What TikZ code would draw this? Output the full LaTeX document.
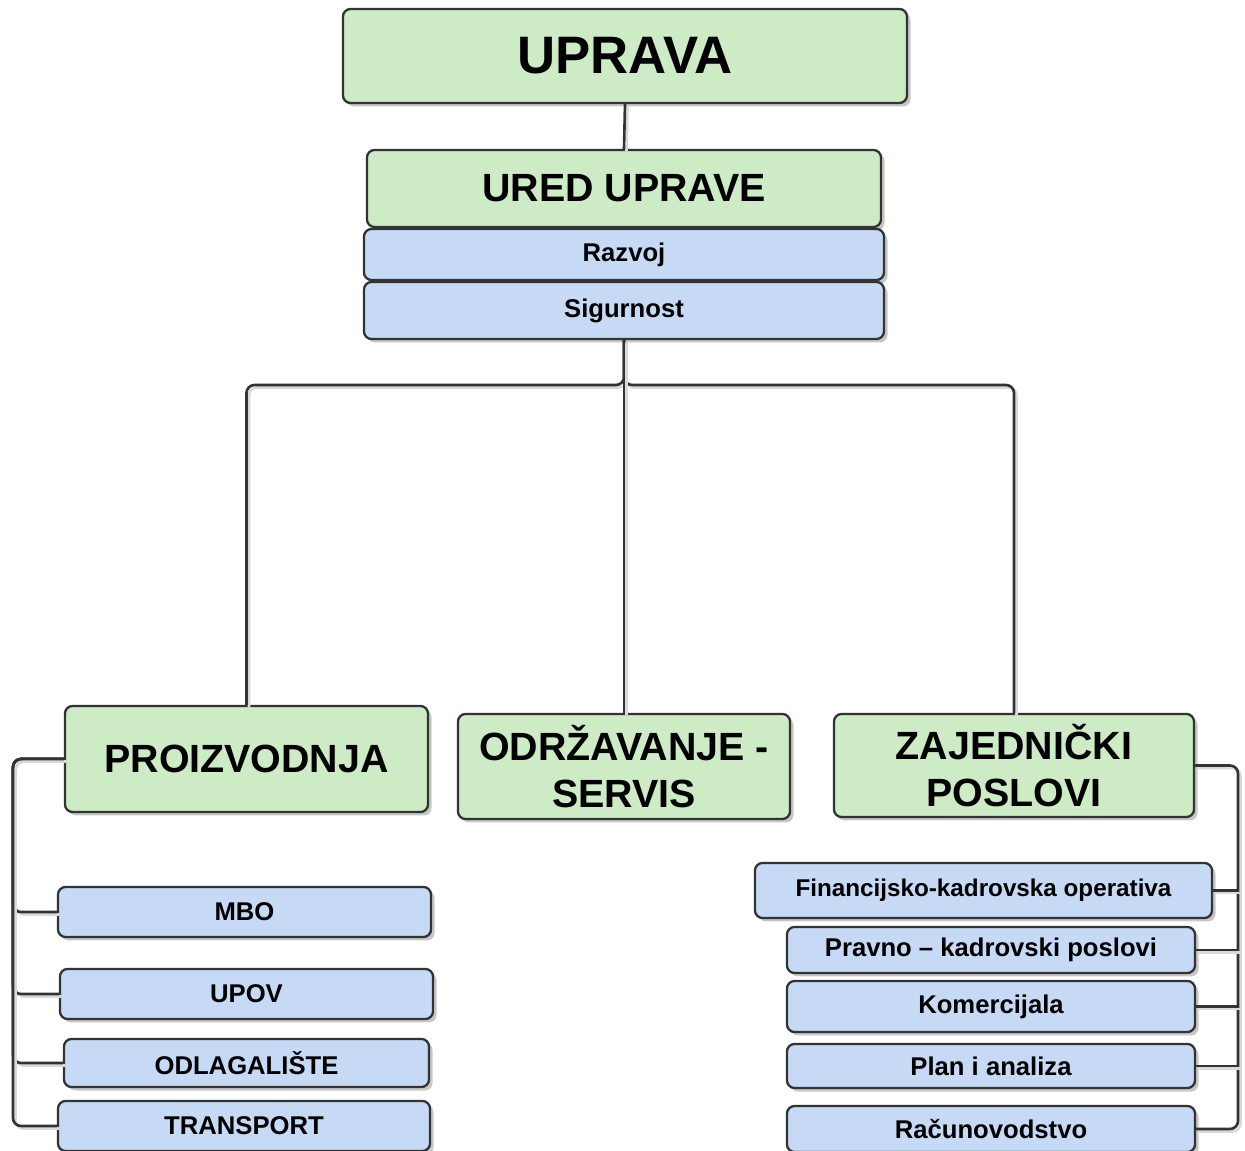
\documentclass[tikz,border=0pt]{standalone}
\usepackage{fontspec}
\setmainfont{Liberation Sans}
\usetikzlibrary{shadows}
\definecolor{boxgreen}{HTML}{CDEBC5}
\definecolor{boxblue}{HTML}{C6DAF5}
\definecolor{edge}{HTML}{333333}
\begin{document}
\begin{tikzpicture}[x=0.02cm,y=-0.02cm,
  box/.style={draw=edge, line width=1.3pt, rounded corners=0.15cm, inner sep=0pt,
    align=center, font=\bfseries,
    drop shadow={shadow xshift=0.07cm, shadow yshift=-0.07cm, fill=black!22, opacity=1}},
  gbox/.style={box, fill=boxgreen},
  bbox/.style={box, fill=boxblue},
  sz/.style 2 args={minimum width=#1*0.02cm, minimum height=#2*0.02cm},
  big/.style={font=\bfseries\fontsize{30}{34}\selectfont},
  mid/.style={font=\bfseries\fontsize{22.4}{26.6}\selectfont},
  small/.style={font=\bfseries\fontsize{14.6}{17}\selectfont},
  conn/.style={draw=edge, line width=1.5pt, rounded corners=0.16cm,
    preaction={draw=black!15, line width=1.5pt,
      transform canvas={shift={(0.05cm,-0.05cm)}}}}]
\useasboundingbox (0,0) rectangle (1245,1151);

% bus points
\coordinate (bus) at (624,385);
\coordinate (lx) at (13,0);
\coordinate (rx) at (1238,0);

% top levels
\node[gbox, big, sz={564}{94}] (upr) at (625,56) {UPRAVA};
\node[gbox, mid, sz={514}{77}] (ured) at (624,188.5) {URED UPRAVE};
\node[bbox, small, sz={520}{51}] (razvoj) at (624,254.5) {Razvoj};
\node[bbox, small, sz={520}{57}] (sig) at (624,310.5) {Sigurnost};

% divisions
\node[gbox, mid, sz={363}{106}] (proiz) at (246.5,759) {PROIZVODNJA};
\node[gbox, mid, sz={332}{105}] (odr) at (624,766.5) {ODRŽAVANJE -\\SERVIS};
\node[gbox, mid, sz={360}{103}] (zaj) at (1014,765.5) {ZAJEDNIČKI\\POSLOVI};

% production units
\node[bbox, small, sz={373}{50}] (mbo) at (244.5,912) {MBO};
\node[bbox, small, sz={373}{50}] (upov) at (246.5,994) {UPOV};
\node[bbox, small, sz={365}{48}] (odl) at (246.5,1063) {ODLAGALIŠTE};
\node[bbox, small, sz={372}{50}] (trans) at (244,1126) {TRANSPORT};

% shared services units
\node[bbox, font=\bfseries\fontsize{13.8}{16}\selectfont, sz={457}{55}] (fin) at (983.5,890.5) {Financijsko-kadrovska operativa};
\node[bbox, small, sz={408}{46}] (prav) at (991,950) {Pravno -- kadrovski poslovi};
\node[bbox, small, sz={408}{51}] (kom) at (991,1006.5) {Komercijala};
\node[bbox, small, sz={408}{44}] (plan) at (991,1066) {Plan i analiza};
\node[bbox, small, sz={408}{46}] (rac) at (991,1129) {Računovodstvo};

% connectors
\draw[conn] (upr.south) -- (ured.north);
\draw[conn] (sig.south) -- (bus) -| (proiz.north);
\draw[conn] (sig.south) -- (bus) -| (zaj.north);
\draw[conn] (sig.south) -- (odr.north);

\foreach \n in {mbo,upov,odl,trans}
  \draw[conn] (proiz.west) -- (proiz.west -| lx) -- (\n.west -| lx) -- (\n.west);

\draw[conn] (zaj.east) -- (zaj.east -| rx) -- (rac.east -| rx) -- (rac.east);
\foreach \n in {fin,prav,kom,plan}
  \draw[conn] (\n.east) -- (\n.east -| rx);
\end{tikzpicture}
\end{document}
